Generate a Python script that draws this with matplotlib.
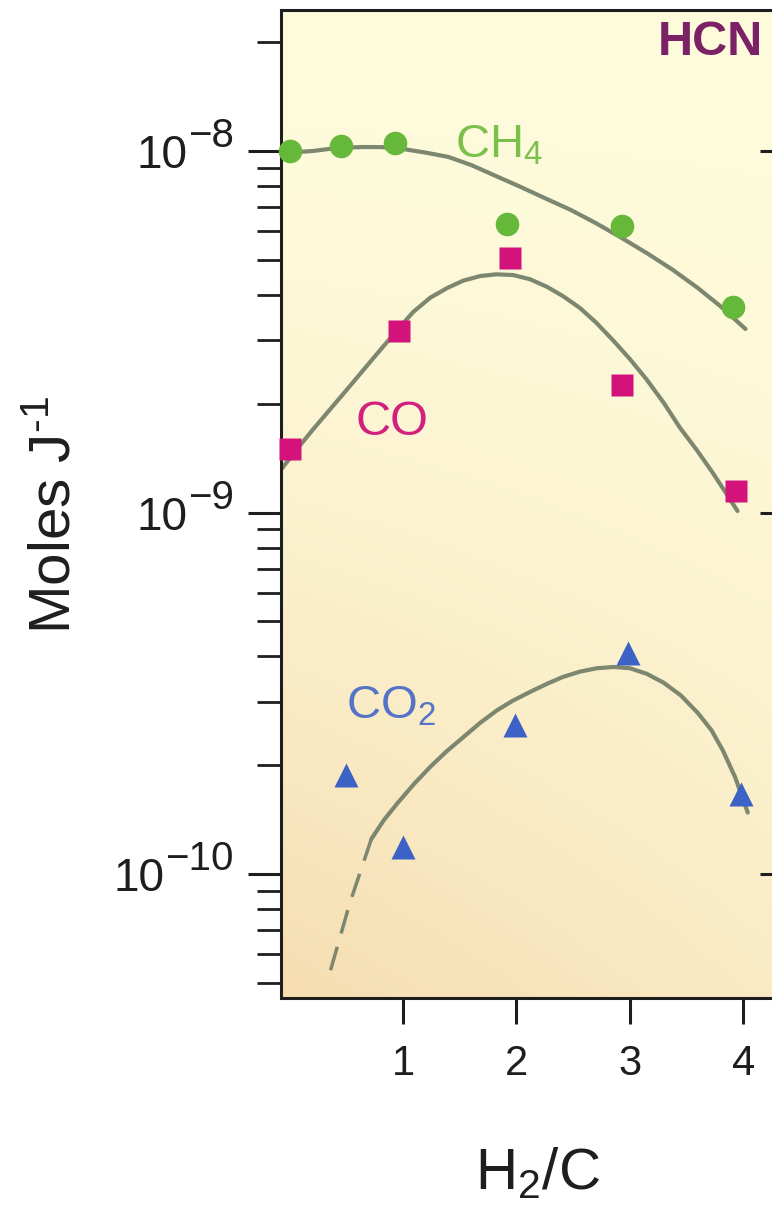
import numpy as np
import matplotlib
matplotlib.use('Agg')
import matplotlib.pyplot as plt
from matplotlib.ticker import FixedLocator, LogLocator, NullFormatter, NullLocator

plt.rcParams['font.family'] = ['Liberation Sans', 'DejaVu Sans']
plt.rcParams['mathtext.fontset'] = 'custom'
plt.rcParams['mathtext.rm'] = 'Liberation Sans'
plt.rcParams['mathtext.it'] = 'Liberation Sans:italic'
plt.rcParams['mathtext.bf'] = 'Liberation Sans:bold'

# measured points
ch4_x = [0.0, 0.45, 0.93, 1.92, 2.93, 3.91]
ch4_y = [1.0e-8, 1.03e-8, 1.05e-8, 6.3e-9, 6.2e-9, 3.7e-9]
co_x = [0.0, 0.96, 1.94, 2.93, 3.94]
co_y = [1.5e-9, 3.17e-9, 5.06e-9, 2.25e-9, 1.15e-9]
co2_x = [0.5, 1.0, 1.99, 2.98, 3.98]
co2_y = [1.88e-10, 1.19e-10, 2.58e-10, 4.08e-10, 1.67e-10]

# fit curves
ch4_fx = [-0.08, 0.2, 0.42, 0.65, 0.82, 1.0, 1.2, 1.4, 1.6, 1.8, 2.02, 2.25,
          2.48, 2.7, 2.92, 3.15, 3.38, 3.6, 3.8, 4.02]
ch4_fy = [9.87e-9, 1.0e-8, 1.02e-8, 1.026e-8, 1.025e-8, 1.013e-8, 9.9e-9,
          9.63e-9, 9.15e-9, 8.58e-9, 8.0e-9, 7.41e-9, 6.87e-9, 6.32e-9,
          5.77e-9, 5.22e-9, 4.69e-9, 4.18e-9, 3.72e-9, 3.22e-9]
co_fx = [-0.08, 0.05, 0.2, 0.35, 0.5, 0.65, 0.8, 0.95, 1.09, 1.24, 1.39,
         1.53, 1.68, 1.82, 1.97, 2.12, 2.27, 2.41, 2.56, 2.7, 2.85, 3.0,
         3.15, 3.3, 3.44, 3.59, 3.73, 3.85, 3.95]
co_fy = [1.31e-9, 1.48e-9, 1.69e-9, 1.92e-9, 2.18e-9, 2.48e-9, 2.82e-9,
         3.2e-9, 3.59e-9, 3.93e-9, 4.18e-9, 4.38e-9, 4.51e-9, 4.56e-9,
         4.54e-9, 4.42e-9, 4.21e-9, 3.97e-9, 3.68e-9, 3.36e-9, 3.0e-9,
         2.66e-9, 2.33e-9, 2.01e-9, 1.72e-9, 1.49e-9, 1.29e-9, 1.13e-9, 1.01e-9]
co2_fx = [0.72, 0.83, 0.95, 1.1, 1.24, 1.38, 1.53, 1.68, 1.83, 1.97, 2.12,
          2.27, 2.41, 2.56, 2.71, 2.86, 3.0, 3.15, 3.3, 3.45, 3.6, 3.72,
          3.82, 3.93, 4.04]
co2_fy = [1.25e-10, 1.41e-10, 1.57e-10, 1.78e-10, 1.98e-10, 2.18e-10,
          2.39e-10, 2.62e-10, 2.84e-10, 3.02e-10, 3.19e-10, 3.36e-10,
          3.51e-10, 3.63e-10, 3.71e-10, 3.74e-10, 3.71e-10, 3.58e-10,
          3.38e-10, 3.12e-10, 2.79e-10, 2.5e-10, 2.2e-10, 1.85e-10, 1.48e-10]
co2_dx = [0.36, 0.53, 0.72]
co2_dy = [5.42e-11, 8.31e-11, 1.25e-10]

y_major = [1e-10, 1e-9, 1e-8]
y_exp = ['\u221210', '\u22129', '\u22128']

curve_c = '#7d876f'
ink = '#1e1e1e'

fig = plt.figure(figsize=(7.72, 12.09), dpi=100)
ax = fig.add_axes([0.364, 0.1745, 0.653, 0.8172])
ax.set_yscale('log')

# background gradient
yy, xx = np.mgrid[0:1:200j, 0:1:100j]
w = (1 - yy) ** 1.6 * (1 - 0.45 * xx)
top = np.array([254, 252, 221]) / 255
bot = np.array([246, 221, 177]) / 255
img = top + (bot - top) * w[..., None]
ax.imshow(img, extent=(0, 1, 0, 1), transform=ax.transAxes, origin='lower',
          aspect='auto', zorder=0, interpolation='bilinear')

kw = dict(color=curve_c, lw=3, zorder=2, solid_capstyle='round', solid_joinstyle='round')
ax.plot(ch4_fx, ch4_fy, **kw)
ax.plot(co_fx, co_fy, **kw)
ax.plot(co2_fx, co2_fy, **kw)
ax.plot(co2_dx, co2_dy, color=curve_c, lw=2.5, zorder=2, dashes=(7, 4))

ax.plot(ch4_x, ch4_y, 'o', ms=17, color='#66b83a', mec='none', zorder=3, clip_on=False)
ax.plot(co_x, co_y, 's', ms=16, color='#d3127c', mec='none', zorder=3, clip_on=False)
ax.plot(co2_x, co2_y, '^', ms=17, color='#3b62c4', mec='none', zorder=3, clip_on=False)

ax.text(1.46, 9.6e-9, 'CH$_4$', color='#7cc04c', fontsize=34, va='baseline')
ax.text(0.58, 1.64e-9, 'CO', color='#d3207e', fontsize=35, va='baseline')
ax.text(0.5, 2.7e-10, 'CO$_2$', color='#5574c8', fontsize=34, va='baseline')
ax.text(0.956, 0.967, 'HCN', color='#7b2166', fontsize=35, fontweight='bold',
        ha='right', va='center', transform=ax.transAxes)

ax.set_xlim(-0.077, 4.37)
ax.set_ylim(4.54e-11, 2.455e-8)

ax.xaxis.set_major_locator(FixedLocator([1, 2, 3, 4]))
ax.xaxis.set_minor_locator(NullLocator())
ax.yaxis.set_major_locator(FixedLocator(y_major))
ax.yaxis.set_minor_locator(LogLocator(base=10, subs=range(2, 10)))
ax.yaxis.set_minor_formatter(NullFormatter())
ax.yaxis.set_major_formatter(NullFormatter())

ax.tick_params(axis='y', which='major', length=24, width=2.2, color=ink)
ax.tick_params(axis='y', which='minor', length=17, width=2, color=ink)
ax.tick_params(axis='x', which='major', length=19, width=2.2, labelsize=30, pad=14,
               color=ink, labelcolor=ink)

for s in ax.spines.values():
    s.set_linewidth(2.2)
    s.set_color(ink)

ax2 = ax.twinx()
ax2.set_yscale('log')
ax2.set_ylim(ax.get_ylim())
ax2.yaxis.set_major_locator(FixedLocator(y_major))
ax2.yaxis.set_minor_locator(NullLocator())
ax2.tick_params(which='major', direction='in', length=18, width=2.2, labelright=False, color=ink)
for s in ax2.spines.values():
    s.set_visible(False)

# y tick labels: 10 with a large exponent
renderer = fig.canvas.get_renderer()
for v, e in zip(y_major, y_exp):
    sup = ax.annotate(e, xy=(0, v), xycoords=('axes fraction', 'data'),
                      xytext=(-47, 4), textcoords='offset pixels',
                      ha='right', va='baseline', fontsize=29, color=ink)
    bb = sup.get_window_extent(renderer)
    ypix = ax.transData.transform((1, v))[1]
    ax.annotate('10', xy=(bb.x0 - 1, ypix - 17), xycoords='figure pixels',
                ha='right', va='baseline', fontsize=33, color=ink)

ax.set_xlabel('H$_2$/C', fontsize=42, color=ink)
ax.xaxis.set_label_coords(0.508, -0.150)
ax.set_ylabel(r'Moles J$^{\text{-}1}$', fontsize=42, color=ink)
ax.yaxis.set_label_coords(-0.395, 0.489)

fig.savefig('out.png', dpi=100)
